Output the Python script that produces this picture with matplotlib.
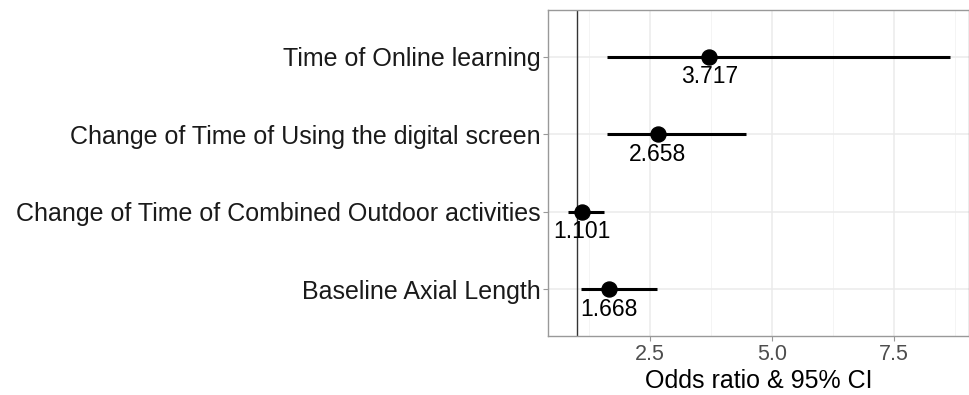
import matplotlib
matplotlib.use("Agg")
import matplotlib.pyplot as plt
from matplotlib.ticker import FixedLocator

# Odds ratios with 95% confidence intervals, top row first
factors = [
    "Time of Online learning",
    "Change of Time of Using the digital screen",
    "Change of Time of Combined Outdoor activities",
    "Baseline Axial Length",
]
odds_ratio = [3.717, 2.658, 1.101, 1.668]
ci_low = [1.61, 1.61, 0.81, 1.09]
ci_high = [8.65, 4.46, 1.56, 2.64]
x_ticks = [2.5, 5.0, 7.5]
x_minor = [1.25, 3.75, 6.25, 8.75]

plt.rcParams["font.family"] = ["Liberation Sans", "DejaVu Sans"]

W, H = 970, 395
fig = plt.figure(figsize=(W / 100, H / 100), dpi=100)
ax = fig.add_axes([548 / W, (H - 336) / H, (969 - 548) / W, (336 - 10) / H])

n = len(factors)
ypos = list(range(n, 0, -1))

ax.set_xlim(0.41, 9.04)
ax.set_ylim(0.4, n + 0.6)

# grid
ax.xaxis.set_major_locator(FixedLocator(x_ticks))
ax.xaxis.set_minor_locator(FixedLocator(x_minor))
ax.set_yticks(ypos)
ax.set_yticklabels(factors, fontsize=18, color="#1a1a1a")
ax.set_xticklabels([f"{t:.1f}" for t in x_ticks], fontsize=15.5, color="#4d4d4d")
ax.grid(which="major", color="#ebebeb", linewidth=1.1, zorder=0)
ax.grid(which="minor", axis="x", color="#f2f2f2", linewidth=0.6, zorder=0)
ax.set_axisbelow(True)

for s in ax.spines.values():
    s.set_color("#999999")
    s.set_linewidth(1.0)

ax.tick_params(axis="both", which="major", length=3.5, width=0.8, color="#999999", pad=2)
ax.tick_params(axis="x", which="minor", length=0)

# reference line at OR = 1
ax.axvline(1.0, color="#333333", linewidth=1.0, zorder=2)

for y, orv, lo, hi in zip(ypos, odds_ratio, ci_low, ci_high):
    ax.plot([lo, hi], [y, y], color="black", linewidth=2.2, solid_capstyle="butt", zorder=3)
    ax.plot([orv], [y], marker="o", markersize=10.8, color="black", zorder=4)
    ax.annotate(f"{orv:.3f}", xy=(orv, y), xytext=(0, -6), textcoords="offset points",
                ha="center", va="top", fontsize=16.5, color="black", zorder=5)

ax.set_xlabel("Odds ratio & 95% CI", fontsize=18, color="black", labelpad=3)

fig.savefig("out.png", dpi=100, facecolor="white")
